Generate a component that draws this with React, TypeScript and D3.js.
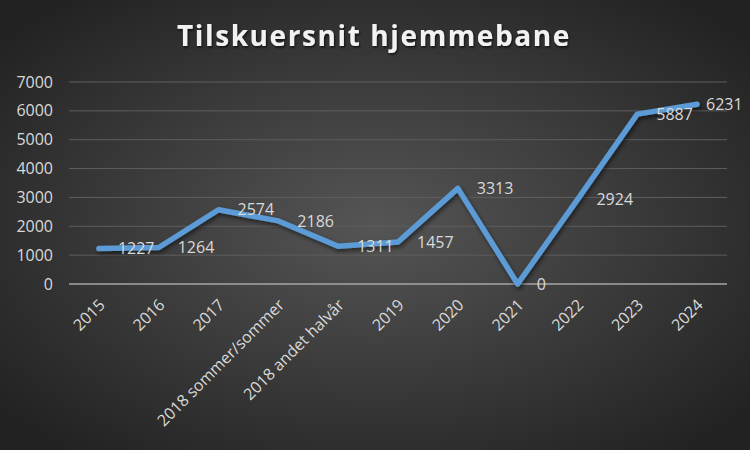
import React from "react";
import * as d3 from "d3";

const categories = ["2015", "2016", "2017", "2018 sommer/sommer", "2018 andet halvår", "2019", "2020", "2021", "2022", "2023", "2024"];
const values = [1227, 1264, 2574, 2186, 1311, 1457, 3313, 0, 2924, 5887, 6231];
const yTicks = [0, 1000, 2000, 3000, 4000, 5000, 6000, 7000];
const title = "Tilskuersnit hjemmebane";

const W = 750, H = 450;
const plot = { left: 69, right: 727, top: 82, bottom: 284 };
const FONT = "'Open Sans', 'Noto Sans', sans-serif";
const TXT = "#d9d9d9";

export default function App() {
  const x = d3.scaleBand<string>().domain(categories).range([plot.left, plot.right]).paddingInner(0).paddingOuter(0);
  const cx = (c: string) => (x(c) as number) + x.bandwidth() / 2;
  const y = d3.scaleLinear().domain([0, 7000]).range([plot.bottom, plot.top]);
  const line = d3.line<number>().x((_, i) => cx(categories[i])).y((v) => y(v));
  const path = line(values) as string;

  return (
    <div style={{ position: "absolute", left: 0, top: 0, width: W, height: H }}>
      <svg width={W} height={H} style={{ display: "block" }}>
        <defs>
          <radialGradient id="bg" cx="50%" cy="50%" r="65%">
            <stop offset="0%" stopColor="#555555" />
            <stop offset="100%" stopColor="#222222" />
          </radialGradient>
          <filter id="shadow" x="-10%" y="-10%" width="120%" height="130%">
            <feDropShadow dx="1.5" dy="2.5" stdDeviation="2" floodColor="#000" floodOpacity="0.55" />
          </filter>
          <filter id="tshadow" x="-10%" y="-30%" width="120%" height="160%">
            <feDropShadow dx="1" dy="1.5" stdDeviation="1.2" floodColor="#000" floodOpacity="0.7" />
          </filter>
        </defs>
        <rect x={0} y={0} width={W} height={H} fill="url(#bg)" />
        <text x={374} y={46} textAnchor="middle" fill="#f2f2f2" fontFamily={FONT} fontWeight={700}
          fontSize={28} letterSpacing={1.6} filter="url(#tshadow)">{title}</text>
        {yTicks.map((t) => (
          <g key={t}>
            <line x1={plot.left} x2={plot.right} y1={y(t)} y2={y(t)}
              stroke={t === 0 ? "#a6a6a6" : "#5e5e5e"} strokeWidth={t === 0 ? 1.5 : 1} />
            <text x={53} y={y(t)} dy="0.35em" textAnchor="end" fill={TXT} fontFamily={FONT} fontSize={16}>{t}</text>
          </g>
        ))}
        {categories.map((c) => (
          <text key={c} transform={`translate(${cx(c) + 3},${302}) rotate(-45)`} textAnchor="end"
            fill={TXT} fontFamily={FONT} fontSize={16} dy="0.35em">{c}</text>
        ))}
        <path d={path} fill="none" stroke="#5b9bd5" strokeWidth={5.5} strokeLinejoin="round" strokeLinecap="round" filter="url(#shadow)" />
        {values.map((v, i) => {
          let lx = cx(categories[i]) + 19;
          if (lx + 38 > W - 6) lx = W - 6 - 38;
          return (
            <text key={i} x={lx} y={y(v)} dy="0.35em" fill={TXT} fontFamily={FONT} fontSize={16}>{v}</text>
          );
        })}
      </svg>
    </div>
  );
}
